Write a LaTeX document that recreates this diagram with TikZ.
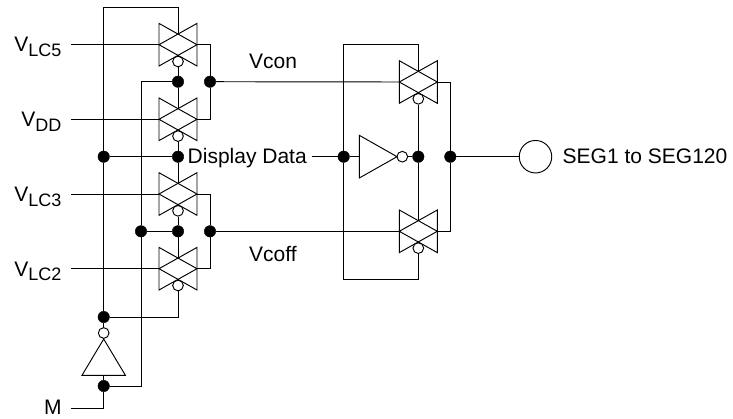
\documentclass[tikz,border=0pt]{standalone}
\usepackage{fontspec}
\setmainfont{Liberation Sans}
\newcommand{\lblsub}[2]{{\fontsize{21}{21}\selectfont #1}\raisebox{-4.7pt}{#2}}
\tikzset{
  wire/.style={line width=0.95pt,line join=miter},
  dotn/.style={circle,fill=black,draw=black,inner sep=0pt,minimum size=11.5pt},
  bub/.style={circle,fill=white,draw=black,line width=0.95pt,inner sep=0pt,minimum size=10.7pt},
  lbl/.style={inner sep=0pt,font=\fontsize{21}{21}\selectfont},
  subl/.style={inner sep=0pt,font=\fontsize{18}{20}\selectfont},
  tgate/.pic={
    \draw[wire] (-19,-21.3) -- (-19,21.3) -- (19,0) -- cycle;
    \draw[wire] (19,-21.3) -- (19,21.3) -- (-19,0) -- cycle;
    \coordinate (-l) at (-19,0);
    \coordinate (-r) at (19,0);
    \coordinate (-t) at (0,-10.6);
    \node[bub] (-b) at (0,16.8) {};
  }
}
\begin{document}
\begin{tikzpicture}[x=1pt,y=-1pt]
\useasboundingbox (0,0) rectangle (733,418);
% gates
\pic (g1) at (178,44.7) {tgate};
\pic (g2) at (178,119.3) {tgate};
\pic (g3) at (178,194) {tgate};
\pic (g4) at (178,268.7) {tgate};
\pic (g5) at (418.3,82) {tgate};
\pic (g6) at (418.3,231.3) {tgate};
% dots
\node[dotn] (d1) at (178,81.7) {};
\node[dotn] (d2) at (210,81.7) {};
\node[dotn] (d3) at (103.7,156.7) {};
\node[dotn] (d4) at (178,156.7) {};
\node[dotn] (d5) at (141,231.3) {};
\node[dotn] (d6) at (178,231.3) {};
\node[dotn] (d7) at (210,231.3) {};
\node[dotn] (d8) at (103.7,317) {};
\node[dotn] (d9) at (103.7,386) {};
\node[dotn] (d10) at (343.7,156.7) {};
\node[dotn] (d11) at (418.3,156.7) {};
\node[dotn] (d12) at (450.3,156.7) {};
% inverters
\node[bub] (ib) at (103.7,333) {};
\coordinate (ia) at (103.7,339);
\coordinate (il) at (82,375.3);
\coordinate (ir) at (125.4,375.3);
\draw[wire] (ia) -- (il) -- (ir) -- cycle;
\node[bub] (jb) at (402.3,156.7) {};
\coordinate (ja) at (397,156.7);
\coordinate (jt) at (359.3,135.3);
\coordinate (jd) at (359.3,178);
\draw[wire] (ja) -- (jt) -- (jd) -- cycle;
% circle and labels
\node[circle,draw=black,line width=0.95pt,inner sep=0pt,minimum size=32.5pt] (seg) at (535.5,156.7) {};
\node[lbl,anchor=base west] (segl) at (562.5,163.7) {SEG1 to SEG120};
\node[lbl,anchor=base west] (dd) at (187.5,163.5) {Display Data};
\coordinate (ddw) at (311.7,156.7);
\node[lbl,anchor=base west] (vcon) at (249,68.5) {Vcon};
\node[lbl,anchor=base west] (vcoff) at (249,261) {Vcoff};
\node[subl,anchor=base east] (v5) at (61.5,51.7) {\lblsub{V}{LC5}};
\node[subl,anchor=base east] (v4) at (61.5,126.5) {\lblsub{V}{DD}};
\node[subl,anchor=base east] (v3) at (61.5,201.5) {\lblsub{V}{LC3}};
\node[subl,anchor=base east] (v2) at (61.5,276) {\lblsub{V}{LC2}};
\node[lbl,anchor=base west] (m) at (44,414.3) {M};
% free ends
\coordinate (i1) at (71,44.7);
\coordinate (i2) at (71,119.3);
\coordinate (i3) at (71,194);
\coordinate (i4) at (71,268.7);
\coordinate (im) at (71,408);
% inputs
\draw[wire] (i1) -- (g1-l);
\draw[wire] (i2) -- (g2-l);
\draw[wire] (i3) -- (g3-l);
\draw[wire] (i4) -- (g4-l);
\draw[wire] (im) -| (d9);
% left control buses
\draw[wire] (d3) |- (103.7,7.3) -| (g1-t);
\draw[wire] (d3) -- (d8);
\draw[wire] (d3) -- (d4);
\draw[wire] (d8) -- (ib);
\draw[wire] (d8) -| (g4-b);
\draw[wire] (d9) -- (103.7,375.3);
\draw[wire] (d9) -| (d5);
\draw[wire] (d5) |- (d1);
\draw[wire] (d5) -- (d6);
% gate stacks
\draw[wire] (g1-b) -- (d1) -- (g2-t);
\draw[wire] (g2-b) -- (d4) -- (g3-t);
\draw[wire] (g3-b) -- (d6) -- (g4-t);
% outputs
\draw[wire] (g1-r) -| (d2);
\draw[wire] (g2-r) -| (d2);
\draw[wire] (g3-r) -| (d7);
\draw[wire] (g4-r) -| (d7);
\draw[wire] (d2) -- (g5-l);
\draw[wire] (d7) -- (g6-l);
% right part
\draw[wire] (ddw) -- (d10);
\draw[wire] (d10) -- (jt |- d10);
\draw[wire] (jb) -- (d11);
\draw[wire] (d10) |- (418.3,44.7) -- (g5-t);
\draw[wire] (d10) |- (418.3,279.3) -- (g6-b);
\draw[wire] (g5-b) -- (d11) -- (g6-t);
\draw[wire] (g5-r) -| (d12);
\draw[wire] (g6-r) -| (d12);
\draw[wire] (d12) -- (seg);
\end{tikzpicture}
\end{document}
